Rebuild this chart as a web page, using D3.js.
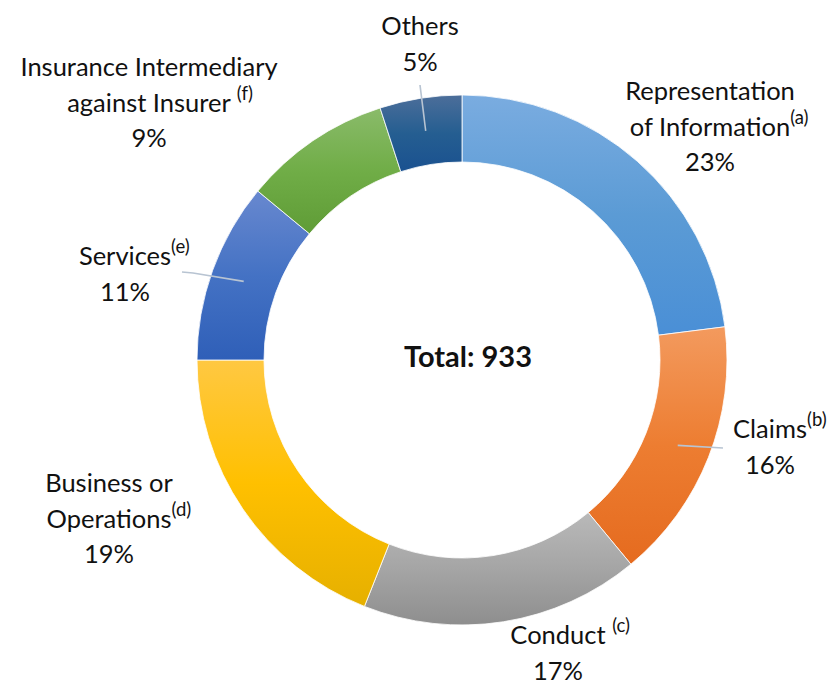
<!DOCTYPE html>
<html>
<head>
<meta charset="utf-8">
<script src="https://cdn.jsdelivr.net/npm/d3@7"></script>
<style>
  body { margin: 0; background: #fff; }
  text { font-family: Lato, "Noto Sans", sans-serif; fill: #111; }
</style>
</head>
<body>
<svg id="chart"></svg>
<script>
// data
const categories = ["Representation of Information", "Claims", "Conduct", "Business or Operations", "Services", "Insurance Intermediary against Insurer", "Others"];
const shares = [23, 16, 17, 19, 11, 9, 5];
const notes = ["(a)", "(b)", "(c)", "(d)", "(e)", "(f)", ""];
const labelLines = [
    ["Representation", "of Information"],
    ["Claims"],
    ["Conduct "],
    ["Business or", "Operations"],
    ["Services"],
    ["Insurance Intermediary", "against Insurer "],
    ["Others"]
];
const total = 933;

// office-like gradients: top, middle, bottom
const colors = [
    ["#7aace0", "#5b9bd5", "#4a8fd6"],
    ["#f39a5e", "#ed7d31", "#e56b1f"],
    ["#b9b9b9", "#a5a5a5", "#8e8e8e"],
    ["#ffc842", "#ffc000", "#e6b000"],
    ["#6888cf", "#4472c4", "#2f5fb8"],
    ["#8abb6a", "#70ad47", "#5f9c36"],
    ["#4c6e9a", "#255e91", "#1a5190"]
];

const width = 836, height = 684;
const cx = 462, cy = 360;
const outerR = 265, innerR = 198;
const fontSize = 25.5;
const lineH = 35.5;

// label block layout: center of main text, first baseline
const labelPos = [
    {x: 710, y: 100},
    {x: 770, y: 438},
    {x: 558, y: 644},
    {x: 109, y: 492},
    {x: 125, y: 265},
    {x: 149, y: 76},
    {x: 420, y: 35}
];
// leader line tail (label side), only some slices have one
const leaders = [null, [[723, 448]], null, null, [[193, 273], [182, 272]], null, [[420, 85]]];

const svg = d3.select("#chart")
    .attr("width", width)
    .attr("height", height);

const defs = svg.append("defs");
colors.forEach((c, i) => {
    const g = defs.append("linearGradient")
        .attr("id", "grad" + i)
        .attr("x1", 0).attr("y1", 0)
        .attr("x2", 0).attr("y2", 1);
    g.append("stop").attr("offset", "0%").attr("stop-color", c[0]);
    g.append("stop").attr("offset", "50%").attr("stop-color", c[1]);
    g.append("stop").attr("offset", "100%").attr("stop-color", c[2]);
});

const pie = d3.pie().sort(null).value(d => d);
const arcs = pie(shares);

const arc = d3.arc()
    .innerRadius(innerR)
    .outerRadius(outerR);

const donut = svg.append("g")
    .attr("transform", `translate(${cx},${cy})`);

donut.selectAll("path.slice")
    .data(arcs)
    .join("path")
    .attr("class", "slice")
    .attr("d", arc)
    .attr("fill", (d, i) => `url(#grad${i})`)
    .attr("stroke", "#fff")
    .attr("stroke-width", 0.8);

// leader lines
const leaderR = 232;
arcs.forEach((d, i) => {
    if (!leaders[i]) return;
    const mid = (d.startAngle + d.endAngle) / 2;
    const start = [cx + leaderR * Math.sin(mid), cy - leaderR * Math.cos(mid)];
    const pts = [start].concat(leaders[i]);
    svg.append("path")
        .attr("d", d3.line()(pts))
        .attr("fill", "none")
        .attr("stroke", "#b8c4d2")
        .attr("stroke-width", 1.6);
});

// labels
const labels = svg.append("g");
categories.forEach((cat, i) => {
    const pos = labelPos[i];
    const lines = labelLines[i].concat([shares[i] + "%"]);
    lines.forEach((ln, j) => {
        const t = labels.append("text")
            .attr("y", pos.y + j * lineH)
            .style("font-size", fontSize + "px");
        t.append("tspan").text(ln);
        const w = t.node().getComputedTextLength();
        t.attr("x", pos.x - w / 2);
        // footnote marker after the last name line
        if (j === labelLines[i].length - 1 && notes[i]) {
            t.append("tspan")
                .attr("dy", -12)
                .style("font-size", "18.5px")
                .text(notes[i]);
        }
    });
});

svg.append("text")
    .attr("x", 468)
    .attr("y", 367)
    .attr("text-anchor", "middle")
    .style("font-size", "29px")
    .style("font-weight", "bold")
    .text("Total: " + total);
</script>
</body>
</html>
